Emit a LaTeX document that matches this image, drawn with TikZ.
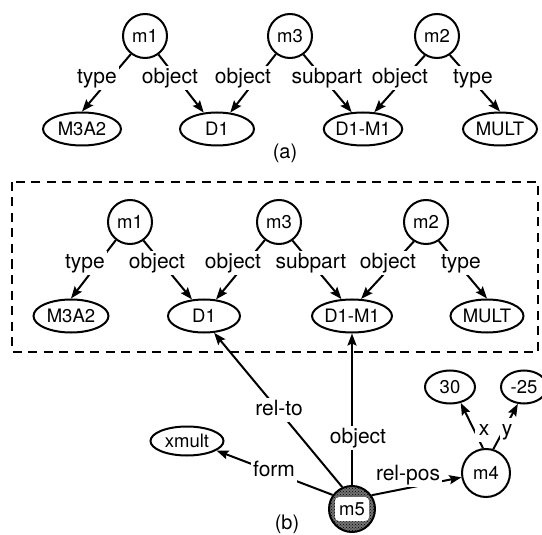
\documentclass[tikz,border=0pt]{standalone}
\usepackage{fontspec}
\setmainfont{TeX Gyre Heros}
\usetikzlibrary{shapes.geometric,arrows.meta,patterns}

\begin{document}
\begin{tikzpicture}[x=1pt,y=-1pt,
  every node/.style={font=\fontsize{18.5}{20}\selectfont},
  rel/.style={circle,draw,line width=2pt,minimum size=44pt,inner sep=0pt},
  ent/.style={ellipse,draw,line width=2pt,minimum height=33pt,inner sep=0pt},
  lab/.style={fill=white,inner xsep=2pt,inner ysep=2pt,text height=15pt,text depth=4.5pt,
              font=\fontsize{21}{23}\selectfont},
  arc/.style={line width=2pt,-{Stealth[length=12pt,width=9pt,inset=2pt]}},
  captxt/.style={font=\fontsize{20}{22}\selectfont},
  frame/.style={line width=2pt,dash pattern=on 9pt off 6.5pt},
  hatched/.style={preaction={fill=black!55},pattern=crosshatch dots,pattern color=black,
    path picture={\fill[white,rounded corners=4pt]
      ([xshift=-17pt,yshift=-12pt]path picture bounding box.center) rectangle
      ([xshift=17pt,yshift=12pt]path picture bounding box.center);}}
]
\useasboundingbox (0,0) rectangle (542,535);

% ---------- (a) ----------
\node[rel] (a1) at (145,36) {m1};
\node[rel] (a3) at (290,36) {m3};
\node[rel] (a2) at (437,36) {m2};
\node[ent,minimum width=78pt] (aM3A2) at (82,129) {M3A2};
\node[ent,minimum width=74pt] (aD1)   at (217,129) {D1};
\node[ent,minimum width=78pt] (aD1M1) at (363,129) {D1-M1};
\node[ent,minimum width=74pt] (aMULT) at (500,129) {MULT};

\draw[arc] (a1.232) -- (aM3A2.north);
\draw[arc] (a1.306) -- (aD1.129);
\draw[arc] (a3.232) -- (aD1.51);
\draw[arc] (a3.306) -- (aD1M1.124);
\draw[arc] (a2.238) -- (aD1M1.56);
\draw[arc] (a2.304) -- (aMULT.north);

\node[lab] (la1) at (97,78)  {type};
\node[lab] (la2) at (170,78) {object};
\node[lab] (la3) at (243,78) {object};
\node[lab] (la4) at (327,78) {subpart};
\node[lab] (la5) at (400,78) {object};
\node[lab] (la6) at (473,78) {type};

\node[captxt] (capa) at (285,153) {(a)};

% ---------- (b) ----------
\draw[frame] (12,182) rectangle (538,352);

\node[rel] (b1) at (130,222) {m1};
\node[rel] (b3) at (279,222) {m3};
\node[rel] (b2) at (426,222) {m2};
\node[ent,minimum width=75pt] (bM3A2) at (71,316)  {M3A2};
\node[ent,minimum width=72pt] (bD1)   at (204,316) {D1};
\node[ent,minimum width=80pt] (bD1M1) at (352,316) {D1-M1};
\node[ent,minimum width=73pt] (bMULT) at (487,316) {MULT};

\draw[arc] (b1.232) -- (bM3A2.north);
\draw[arc] (b1.306) -- (bD1.126);
\draw[arc] (b3.232) -- (bD1.54);
\draw[arc] (b3.306) -- (bD1M1.122);
\draw[arc] (b2.238) -- (bD1M1.62);
\draw[arc] (b2.304) -- (bMULT.north);

\node[lab] (lb1) at (85,263)  {type};
\node[lab] (lb2) at (157,263) {object};
\node[lab] (lb3) at (233,263) {object};
\node[lab] (lb4) at (311,263) {subpart};
\node[lab] (lb5) at (388,263) {object};
\node[lab] (lb6) at (461,263) {type};

% lower part of (b)
\node[rel,minimum size=46pt,hatched] (m5) at (352,509) {m5};
\node[rel,minimum size=48pt] (m4) at (486,473) {m4};
\node[ent,minimum width=73pt,minimum height=29pt] (xmult) at (187,441) {xmult};
\node[ent,minimum width=50pt,minimum height=33pt] (v30) at (450,387) {30};
\node[ent,minimum width=46pt,minimum height=33pt] (v25) at (524,387) {-25};

\draw[arc] (m5.114) -- (bD1.-59);
\draw[arc] (m5.north) -- (bD1M1.south);
\draw[arc] (m5.144) -- (xmult.-18);
\draw[arc] (m5.35) -- (m4.190);
\draw[arc] (m4.97) -- (v30.-56);
\draw[arc] (m4.73) -- (v25.-110);

\node[lab] (lrelto)  at (279,410) {rel-to};
\node[lab] (lobj)    at (358,438) {object};
\node[lab] (lform)   at (274,471) {form};
\node[lab] (lrelpos) at (408,475) {rel-pos};
\node[lab,inner xsep=4pt] (lx) at (484,430) {x};
\node[lab] (ly) at (507,430) {y};

\node[captxt] (capb) at (287,524) {(b)};
\end{tikzpicture}
\end{document}
